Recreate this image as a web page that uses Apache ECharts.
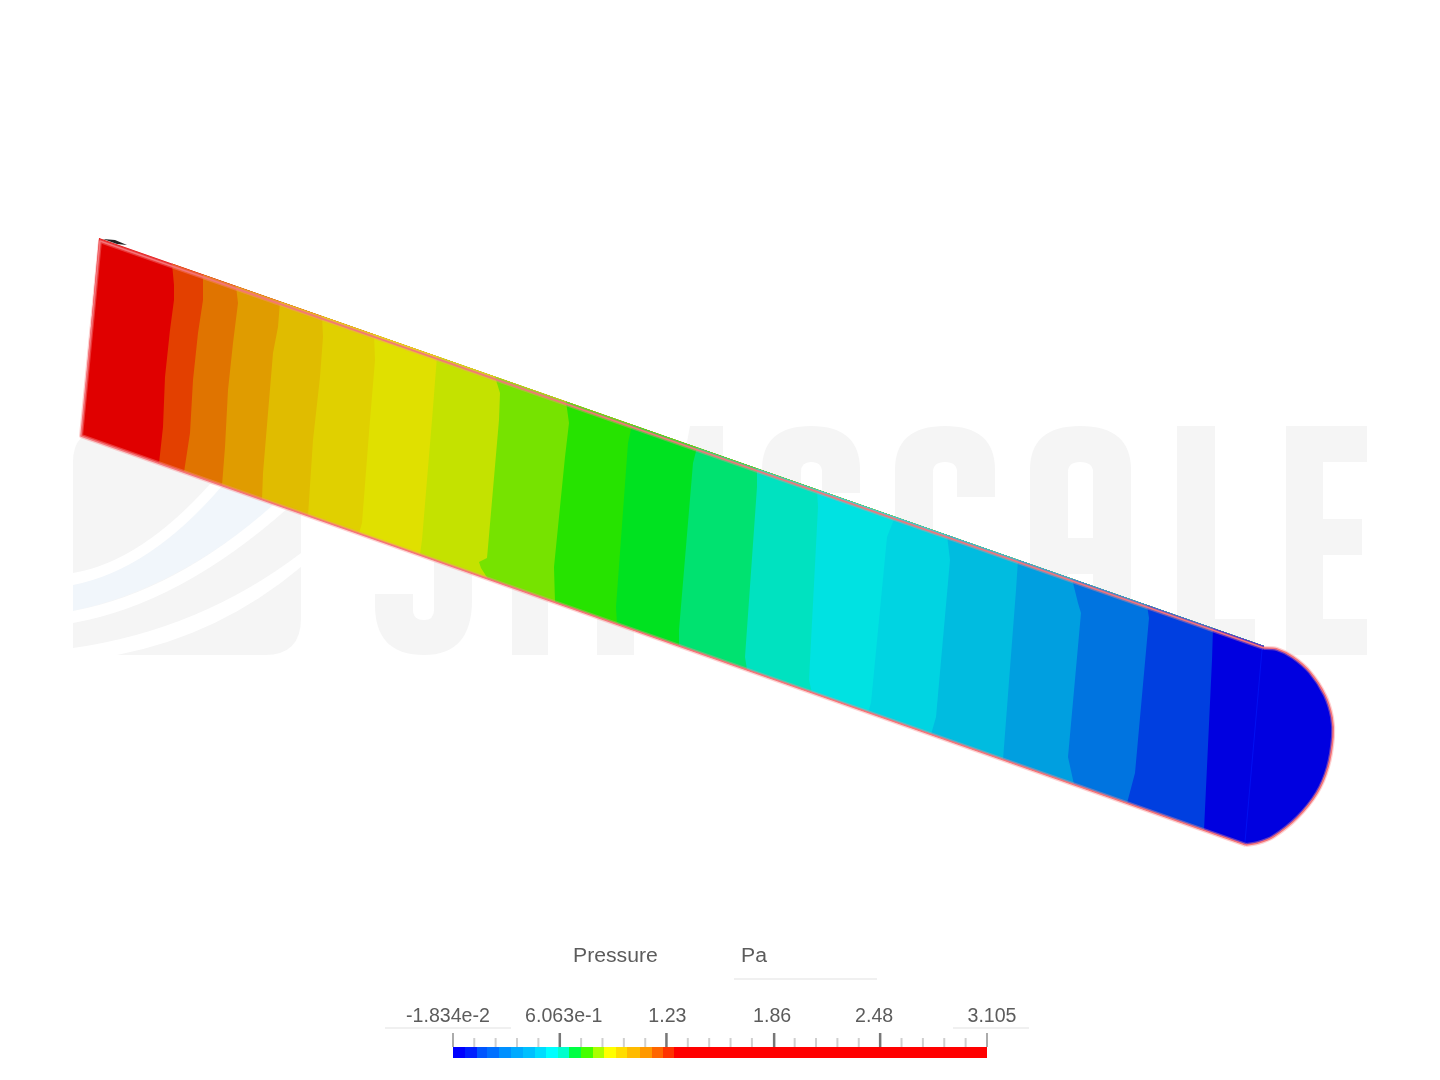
<!DOCTYPE html>
<html>
<head>
<meta charset="utf-8">
<title>Pressure</title>
<script src="https://cdn.jsdelivr.net/npm/echarts@6/dist/echarts.min.js"></script>
<style>
  html, body { margin: 0; background: #fff; }
  #chart { width: 1440px; height: 1080px; }
  /* the reference is a soft upscaled screenshot */
  #chart canvas { filter: blur(0.45px); }
</style>
</head>
<body>
<div id="chart"></div>
<script>
// contour bands, left (inlet) to right (outlet)
const bandColors = ['#e00000', '#e34000', '#e07400', '#e09c00', '#e0bc00', '#e0d000', '#e0e000',
  '#c4e200', '#76e300', '#26e300', '#00e220', '#00e270', '#00e2c0', '#00e2e2', '#00d4e2',
  '#00bce0', '#009fe0', '#0074e0', '#003fe0', '#0000e0']
// where each band starts: x on the top wall, points inside, x on the bottom wall
const contourTopX = [99, 172, 203, 236, 280, 322, 374, 437, 495, 566, 632, 697, 757, 817, 895, 947, 1018, 1072, 1147, 1213]
const contourBottomX = [81, 159, 184, 222, 262, 308, 359, 420, 488, 555, 617, 679, 747, 812, 868, 931, 1003, 1074, 1127, 1204]
const contourInner = [
  [],
  [[174, 285], [174, 300], [170, 330], [165, 377], [163, 427]],
  [[203, 300], [198, 333], [193, 380], [190, 433]],
  [[238, 303], [233, 343], [228, 390], [225, 447]],
  [[278, 327], [273, 353], [268, 413], [263, 473]],
  [[323, 337], [320, 377], [313, 440]],
  [[375, 360], [370, 420], [362, 523]],
  [[432, 420], [422, 540]],
  [[500, 393], [499, 420], [488, 547], [487, 558], [479, 562], [481, 568]],
  [[569, 423], [565, 457], [554, 567]],
  [[628, 443], [616, 607]],
  [[693, 463], [679, 630]],
  [[757, 487], [745, 657]],
  [[818, 507], [809, 680]],
  [[887, 537], [871, 703]],
  [[950, 560], [936, 717]],
  [[1016, 590]],
  [[1078, 603], [1081, 613], [1068, 757]],
  [[1149, 618], [1135, 773]],
  [[1212, 660]]
]
const wallTop = [[99, 238], [1264, 646]]
const wallBottom = [[81, 436], [1246, 845]]
const capPoints = [[1264, 648], [1277, 649], [1293, 657], [1310, 672], [1325, 695], [1332, 717], [1333, 737],
  [1328, 767], [1317, 793], [1297, 818], [1273, 837], [1258, 843], [1246, 845]]
const outlineSides = [[1264, 648], [100, 241], [81, 436], [1246, 845]]
const capSeam = [[1262, 650], [1245, 842]]
const cornerSliver = [[103, 239], [115, 240], [127, 245], [117, 244]]

// colour bar, Pa
const barEdges = [-0.01834, 0.0518, 0.122, 0.1805, 0.2507, 0.3209, 0.3911, 0.4613, 0.5256, 0.5958, 0.6601,
  0.7303, 0.8005, 0.8649, 0.9351, 0.9994, 1.0754, 1.1456, 1.2099, 1.2742, 3.105]
const barColors = ['#0000ff', '#0020ff', '#0055ff', '#0070ff', '#0090ff', '#00aaff', '#00c0ff', '#00ddff', '#00ffff', '#00ffcc',
  '#00ff44', '#44ff00', '#aaff00', '#ffff00', '#ffdd00', '#ffbb00', '#ff9900', '#ff6600', '#ff3300', '#ff0000']
const majorTicks = [-0.01834, 0.6063, 1.23, 1.86, 2.48, 3.105]
const minorTicks = [0.106, 0.231, 0.356, 0.481, 0.731, 0.856, 0.981, 1.106, 1.355, 1.48, 1.605, 1.73,
  1.98, 2.105, 2.23, 2.355, 2.605, 2.73, 2.855, 2.98]
const tickLabels = ['-1.834e-2', '6.063e-1', '1.23', '1.86', '2.48', '3.105']
const tickLabelNudge = [-5, 4, 1, -2, -6, 5]

const FONT = '"Liberation Sans", Arial, sans-serif'
const TEXT_COLOR = '#5c5c5c'

const WATERMARK = '#f5f5f5'
const LOGO_BLUE = '#f1f6fb'
// watermark sits behind the strip, most of it is hidden
const watermarkPaths = [
  ['M73,462 Q73,430 105,430 L301,430 L301,618 Q301,655 265,655 L73,655 Z', WATERMARK],
  ['M73,585 Q150,566 225,478 L275,505 Q175,590 73,611 Z', LOGO_BLUE],
  ['M73,573 Q140,562 210,484 L222,486 Q150,570 73,585 Z', '#ffffff'],
  ['M73,611 Q175,592 273,505 L288,508 Q180,604 73,623 Z', '#ffffff'],
  ['M73,648 Q200,630 301,553 L301,567 Q220,635 117,655 L73,655 Z', '#ffffff'],
  ['M375,594 L413,594 L413,610 Q413,620 424,620 Q434,620 434,610 L434,500 L472,500 L472,600 Q472,655 424,655 Q375,655 375,605 Z', WATERMARK],
  ['M512,500 L548,500 L548,655 L512,655 Z', WATERMARK],
  ['M597,560 L634,560 L634,655 L597,655 Z', WATERMARK],
  ['M690,426 L723,426 L723,480 L680,480 Z', WATERMARK],
  ['M762,520 L762,470 Q762,426 811,426 Q860,426 860,470 L860,493 L822,493 L822,472 Q822,462 811,462 Q801,462 801,472 L801,520 Z', WATERMARK],
  ['M895,560 L895,470 Q895,426 945,426 Q995,426 995,470 L995,497 L957,497 L957,472 Q957,462 945,462 Q933,462 933,472 L933,560 Z', WATERMARK],
  ['M1030,620 L1030,470 Q1030,426 1080,426 Q1131,426 1131,470 L1131,640 L1093,640 L1093,574 L1068,574 L1068,620 Z M1068,538 L1093,538 L1093,472 Q1093,462 1080,462 Q1068,462 1068,472 Z', WATERMARK],
  ['M1177,426 L1215,426 L1215,619 L1255,619 L1255,655 L1177,655 Z', WATERMARK],
  ['M1286,426 L1367,426 L1367,462 L1323,462 L1323,519 L1362,519 L1362,555 L1323,555 L1323,619 L1367,619 L1367,655 L1286,655 Z', WATERMARK]
]

function wallY(wall, x) {
  const [a, b] = wall
  return a[1] + (b[1] - a[1]) * (x - a[0]) / (b[0] - a[0])
}

function contourLine(i) {
  return [[contourTopX[i], wallY(wallTop, contourTopX[i])]]
    .concat(contourInner[i])
    .concat([[contourBottomX[i], wallY(wallBottom, contourBottomX[i])]])
}

// each band runs to the far end, the next one paints over it, so no seams
function bandPoints(i) {
  return contourLine(i)
    .concat([wallBottom[1]])
    .concat(capPoints.slice().reverse())
    .concat([wallTop[1]])
}

function renderWatermark(params, api) {
  const w = watermarkPaths[api.value(0)]
  // custom path fits itself to a rect, so hand it its own bounds
  const box = echarts.graphic.makePath(w[0]).getBoundingRect()
  return {
    type: 'path',
    shape: { pathData: w[0], layout: 'cover', x: box.x, y: box.y, width: box.width, height: box.height },
    style: { fill: w[1] }
  }
}

function renderBand(params, api) {
  const i = api.value(0)
  return {
    type: 'polygon',
    shape: { points: bandPoints(i).map(p => api.coord(p)) },
    style: { fill: bandColors[i] }
  }
}

function renderOutline(params, api) {
  const sides = outlineSides.map(p => api.coord(p))
  const cap = capPoints.map(p => api.coord(p))
  const soft = { fill: 'none', stroke: 'rgba(250,140,140,0.4)', lineWidth: 4, lineJoin: 'round' }
  const core = { fill: 'none', stroke: '#f4747a', lineWidth: 1.6, lineJoin: 'round' }
  return {
    type: 'group',
    children: [
      { type: 'polyline', shape: { points: capSeam.map(p => api.coord(p)) }, style: { fill: 'none', stroke: '#0010f2', lineWidth: 1 } },
      { type: 'polygon', shape: { points: cornerSliver.map(p => api.coord(p)) }, style: { fill: '#222' } },
      { type: 'polyline', shape: { points: sides }, style: soft },
      { type: 'polyline', shape: { points: cap, smooth: 0.3 }, style: soft },
      { type: 'polyline', shape: { points: sides }, style: core },
      { type: 'polyline', shape: { points: cap, smooth: 0.3 }, style: core }
    ]
  }
}

function renderBarStep(params, api) {
  const i = api.value(0)
  const a = api.coord([barEdges[i], 0])
  const b = api.coord([barEdges[i + 1], 1])
  return {
    type: 'rect',
    shape: { x: a[0], y: b[1], width: b[0] - a[0], height: a[1] - b[1] },
    style: { fill: barColors[i] }
  }
}

function renderTick(params, api) {
  const p = api.coord([api.value(0), 1])
  const kind = api.value(1)
  const len = kind === 0 ? 9 : 14
  const width = kind === 0 ? 2 : (kind === 2 ? 1.5 : 2.5)
  const color = kind === 0 ? '#cfcfcf' : (kind === 2 ? '#8f8f8f' : '#777')
  return {
    type: 'rect',
    shape: { x: p[0] - width / 2, y: p[1] - len, width: width, height: len },
    style: { fill: color }
  }
}

function renderTickLabel(params, api) {
  const i = api.value(0)
  const p = api.coord([majorTicks[i], 1])
  return {
    type: 'text',
    x: p[0] + tickLabelNudge[i],
    y: p[1] - 30,
    style: { text: tickLabels[i], fill: TEXT_COLOR, font: '19.6px ' + FONT, align: 'center', verticalAlign: 'middle' }
  }
}

function legendRule(x1, x2, y) {
  return { type: 'line', z: 1, silent: true, shape: { x1: x1, y1: y, x2: x2, y2: y }, style: { stroke: '#ebebeb', lineWidth: 1.5 } }
}

function legendText(text, x, y) {
  return { type: 'text', z: 1, silent: true, x: x, y: y, scaleX: 1.06, style: { text: text, fill: TEXT_COLOR, font: '20px ' + FONT, verticalAlign: 'middle' } }
}

const chart = echarts.init(document.getElementById('chart'), null, { renderer: 'canvas' })
chart.setOption({
  animation: false,
  backgroundColor: '#ffffff',
  tooltip: { show: false },
  grid: [
    { left: 0, top: 0, width: 1440, height: 1080 },
    { left: 453, top: 1047, width: 534, height: 11 }
  ],
  xAxis: [
    { gridIndex: 0, type: 'value', min: 0, max: 1440, show: false },
    { gridIndex: 1, type: 'value', min: -0.01834, max: 3.105, show: false }
  ],
  yAxis: [
    { gridIndex: 0, type: 'value', min: 0, max: 1080, inverse: true, show: false },
    { gridIndex: 1, type: 'value', min: 0, max: 1, show: false }
  ],
  graphic: [
    legendText('Pressure', 573, 956),
    legendText('Pa', 741, 956),
    legendRule(734, 877, 979),
    legendRule(385, 511, 1028),
    legendRule(953, 1029, 1028)
  ],
  series: [
    {
      name: 'watermark', type: 'custom', xAxisIndex: 0, yAxisIndex: 0, z: 1, silent: true, clip: false,
      data: watermarkPaths.map((w, i) => [i]), renderItem: renderWatermark
    },
    {
      name: 'bands', type: 'custom', xAxisIndex: 0, yAxisIndex: 0, z: 5, silent: true, clip: false,
      data: bandColors.map((c, i) => [i]), renderItem: renderBand
    },
    {
      name: 'outline', type: 'custom', xAxisIndex: 0, yAxisIndex: 0, z: 6, silent: true, clip: false,
      data: [[0]], renderItem: renderOutline
    },
    {
      name: 'colour bar', type: 'custom', xAxisIndex: 1, yAxisIndex: 1, z: 5, silent: true, clip: false,
      data: barColors.map((c, i) => [i]), renderItem: renderBarStep
    },
    {
      name: 'ticks', type: 'custom', xAxisIndex: 1, yAxisIndex: 1, z: 5, silent: true, clip: false,
      data: minorTicks.map(v => [v, 0]).concat(majorTicks.map((v, i) => [v, (i === 0 || i === 5) ? 2 : 1])),
      encode: { x: 0 }, renderItem: renderTick
    },
    {
      name: 'tick labels', type: 'custom', xAxisIndex: 1, yAxisIndex: 1, z: 5, silent: true, clip: false,
      data: tickLabels.map((t, i) => [i]), renderItem: renderTickLabel
    }
  ]
})
</script>
</body>
</html>
